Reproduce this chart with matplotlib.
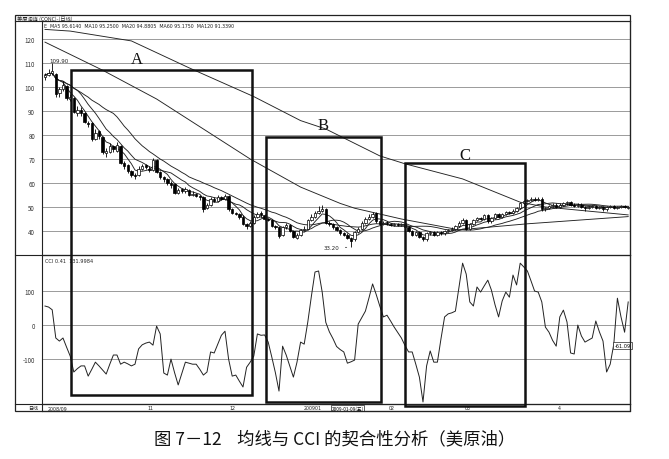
import matplotlib
matplotlib.use("Agg")
import matplotlib.pyplot as plt
from matplotlib.patches import Rectangle
from matplotlib.lines import Line2D
import numpy as np
import pandas as pd

plt.rcParams['font.family'] = ['Noto Sans CJK SC', 'DejaVu Sans']

# ---------------- data ----------------
opens = [104.0, 105.0, 106.0, 105.5, 97.5, 99.0, 100.5, 95.0, 95.5, 89.0,
         90.5, 89.0, 85.0, 85.0, 78.5, 81.5, 79.0, 72.5, 73.0, 75.5,
         73.5, 75.5, 68.5, 67.5, 65.0, 63.5, 63.5, 66.0, 67.5, 66.0,
         65.5, 69.5, 64.5, 62.5, 61.5, 60.0, 59.5, 56.0, 57.5, 56.5,
         57.0, 55.0, 55.5, 54.5, 54.0, 49.5, 51.0, 53.5, 52.5, 54.0,
         53.5, 54.5, 49.0, 47.5, 47.0, 46.0, 43.0, 42.0, 43.5, 46.0,
         47.5, 46.5, 45.0, 44.5, 42.0, 41.5, 38.5, 41.5, 42.5, 40.0,
         37.0, 38.5, 40.5, 41.0, 44.5, 46.0, 47.5, 48.5, 49.0, 43.5,
         43.0, 41.5, 40.5, 39.0, 38.5, 37.0, 36.5, 39.5, 41.0, 43.5,
         45.0, 46.0, 47.5, 44.0, 43.0, 43.5, 43.0, 42.5, 43.0, 42.5,
         43.0, 41.5, 40.0, 38.5, 39.5, 37.5, 36.5, 39.0, 39.5, 38.5,
         39.5, 39.0, 40.0, 40.5, 41.0, 42.0, 43.5, 44.5, 41.0, 43.0,
         44.5, 45.5, 45.0, 46.5, 44.0, 45.5, 47.0, 46.0, 47.0, 48.0,
         47.5, 48.5, 49.5, 51.5, 52.5, 53.0, 53.5, 53.0, 53.5, 49.0,
         49.5, 50.5, 51.0, 50.0, 51.0, 51.5, 52.0, 51.0, 50.5, 51.0,
         50.0, 49.5, 50.0, 50.5, 49.5, 50.0, 49.0, 50.0, 50.5, 49.5,
         50.0, 50.5, 49.5]
closes = [105.0, 106.0, 106.5, 97.0, 99.0, 101.0, 95.5, 96.0, 89.5, 90.5,
          89.0, 85.5, 84.5, 78.5, 81.0, 79.5, 73.0, 73.5, 75.5, 74.0,
          76.0, 68.5, 67.0, 65.0, 63.5, 63.0, 66.0, 67.0, 66.5, 65.5,
          69.5, 64.5, 62.5, 61.5, 60.0, 59.0, 56.0, 57.0, 56.5, 57.5,
          55.0, 55.5, 54.5, 54.0, 49.0, 51.0, 53.5, 52.5, 54.0, 53.5,
          54.5, 49.0, 47.5, 47.0, 46.0, 43.0, 42.0, 43.5, 46.0, 47.0,
          46.5, 45.0, 44.5, 42.0, 41.5, 38.0, 41.5, 42.5, 40.0, 37.5,
          38.5, 40.5, 41.0, 44.5, 46.0, 47.5, 48.5, 49.0, 43.5, 43.0,
          41.5, 40.5, 39.0, 38.5, 37.0, 36.0, 39.5, 41.0, 43.5, 45.0,
          46.0, 47.0, 44.0, 43.0, 43.5, 43.0, 42.5, 43.0, 42.5, 43.0,
          41.5, 40.0, 38.5, 39.5, 37.5, 36.5, 39.0, 39.5, 38.5, 39.5,
          39.0, 40.0, 40.5, 41.0, 42.0, 43.5, 44.5, 41.0, 43.0, 44.5,
          45.5, 45.0, 46.5, 44.0, 45.5, 47.0, 46.0, 47.0, 48.0, 47.5,
          48.5, 49.5, 51.5, 52.5, 53.0, 53.5, 53.0, 53.5, 49.0, 49.5,
          50.5, 51.0, 50.0, 51.0, 51.5, 52.0, 51.0, 50.5, 51.0, 50.0,
          49.5, 50.0, 50.5, 49.5, 50.0, 49.0, 50.0, 50.5, 49.5, 50.0,
          50.5, 50.0, 50.0]
highs = [106.0, 107.5, 109.9, 106.0, 100.0, 102.5, 101.0, 97.0, 96.0, 92.0,
         91.5, 89.5, 86.0, 85.5, 82.5, 82.0, 79.5, 74.5, 76.5, 76.0,
         77.0, 76.0, 69.0, 68.0, 65.5, 64.0, 67.0, 68.0, 68.0, 67.0,
         70.5, 70.0, 65.0, 63.0, 62.0, 61.0, 60.0, 58.0, 58.0, 58.5,
         57.5, 56.5, 56.0, 55.0, 54.5, 51.5, 54.0, 54.0, 55.0, 54.5,
         55.5, 55.0, 49.5, 48.0, 47.5, 46.5, 43.5, 44.0, 46.5, 48.0,
         48.5, 47.0, 45.5, 45.0, 42.5, 42.0, 42.0, 43.5, 43.0, 40.5,
         39.0, 41.0, 42.0, 45.0, 47.0, 48.5, 50.5, 51.0, 49.5, 44.0,
         43.5, 42.0, 41.0, 39.5, 39.0, 37.5, 40.0, 41.5, 44.0, 46.0,
         47.0, 48.0, 48.0, 44.5, 44.0, 44.0, 43.5, 43.5, 43.5, 43.5,
         43.5, 42.0, 40.5, 40.0, 40.0, 38.0, 39.5, 40.0, 40.0, 40.0,
         40.0, 40.5, 41.0, 41.5, 42.5, 44.0, 45.5, 45.0, 43.5, 45.0,
         46.0, 46.0, 47.0, 47.0, 46.0, 47.5, 47.5, 47.5, 48.5, 48.5,
         49.0, 50.0, 52.0, 53.0, 53.5, 54.0, 54.0, 54.0, 54.0, 50.0,
         51.0, 51.5, 51.5, 51.5, 52.0, 52.5, 52.5, 51.5, 51.5, 51.5,
         50.5, 50.5, 51.0, 51.0, 50.5, 50.5, 50.5, 51.0, 51.0, 50.5,
         51.0, 51.0, 50.5]
lows = [103.0, 104.5, 105.0, 96.0, 96.0, 98.5, 94.5, 94.0, 89.0, 88.0,
        88.0, 85.0, 83.5, 77.5, 78.0, 78.5, 72.0, 71.0, 72.5, 73.0,
        73.0, 68.0, 66.0, 64.0, 62.5, 61.5, 63.0, 65.5, 66.0, 64.5,
        65.0, 64.0, 61.5, 60.5, 59.0, 58.0, 55.5, 55.5, 56.0, 56.0,
        54.5, 54.5, 54.0, 53.0, 48.0, 49.0, 50.5, 52.0, 52.0, 53.0,
        53.0, 48.5, 47.0, 46.5, 45.0, 42.5, 41.0, 41.5, 43.0, 45.5,
        46.0, 44.5, 44.0, 41.5, 41.0, 37.0, 38.0, 41.0, 39.5, 37.0,
        36.5, 38.0, 40.0, 40.5, 44.0, 45.5, 47.0, 48.0, 43.0, 42.0,
        41.0, 40.0, 38.5, 38.0, 36.5, 33.2, 36.0, 39.0, 40.5, 43.0,
        44.5, 45.5, 43.5, 42.5, 42.5, 42.5, 42.0, 42.0, 42.0, 42.0,
        41.0, 39.5, 38.0, 38.0, 37.0, 36.0, 36.0, 38.5, 38.0, 38.0,
        38.5, 38.5, 39.5, 40.0, 40.5, 41.5, 43.0, 40.5, 40.5, 42.5,
        44.0, 44.5, 44.5, 43.5, 43.5, 45.0, 45.5, 45.5, 46.5, 47.0,
        47.0, 48.0, 49.0, 51.0, 52.0, 52.5, 52.5, 52.5, 48.5, 48.5,
        49.0, 50.0, 49.5, 49.5, 50.5, 51.0, 50.5, 50.0, 50.0, 49.5,
        48.5, 49.0, 49.5, 49.0, 49.0, 48.5, 48.5, 49.5, 49.0, 49.0,
        49.5, 49.5, 49.0]

# long moving averages (bar index, value)
ma60_idx = [0, 16, 31, 57, 71, 82, 86, 99, 115, 134, 162]
ma60_val = [118.7, 107.0, 95.0, 70.0, 58.3, 51.5, 49.5, 45.0, 40.5, 43.0, 46.0]
ma120_idx = [0, 7, 24, 40, 58, 71, 78, 93, 100, 116, 132, 139, 162]
ma120_val = [124.0, 123.3, 119.2, 108.0, 96.0, 86.0, 82.5, 71.3, 68.0, 61.7, 52.0, 50.0, 46.7]

cci = [56, 53, 45, -38, -47, -38, -65, -91, -138, -128,
       -120, -120, -150, -130, -109, -120, -132, -144, -115, -88,
       -88, -115, -109, -114, -120, -115, -70, -58, -53, -50,
       -59, -3, -26, -141, -147, -100, -140, -176, -142, -109,
       -112, -115, -115, -130, -147, -138, -79, -82, -56, -30,
       -18, -100, -150, -147, -165, -182, -124, -109, -91, -26,
       -30, -29, -50, -94, -140, -194, -62, -88, -120, -153,
       -109, -50, -56, 9, 85, 156, 159, 97, 8, -20,
       -40, -63, -72, -79, -112, -108, -103, 3, 22, 41,
       80, 121, 90, 56, 24, 29, 12, -6, -22, -38,
       -60, -79, -79, -115, -153, -226, -120, -76, -109, -109,
       -40, 24, 33, 36, 41, 112, 182, 150, 68, 56,
       112, 97, 115, 132, 103, 60, 24, 71, 97, 82,
       147, 118, 182, 171, 159, 130, 100, 97, 68, -6,
       -21, -45, -62, 24, 44, 9, -82, -85, 0, -32,
       -50, -44, -38, 12, -20, -47, -138, -115, -56, 79,
       24, -21, 68]

price_ticks = [40, 50, 60, 70, 80, 90, 100, 110, 120]
cci_ticks = [-100, 0, 100]
date_pos = [0, 29.2, 52, 71.8, 96.4, 117.5, 142.8]
date_labels = ["2008/09", "11", "12", "200901", "02", "03", "4"]

# ---------------- layout ----------------
W, H = 669, 460
fig = plt.figure(figsize=(W / 100, H / 100), dpi=100)
fig.patch.set_facecolor('white')

def rect(x0, y0, x1, y1):
    return [x0 / W, 1 - y1 / H, (x1 - x0) / W, (y1 - y0) / H]

def fx(x):
    return x / W

def fy(y):
    return 1 - y / H

ax_p = fig.add_axes(rect(42, 22, 630, 256))
ax_c = fig.add_axes(rect(42, 256, 630, 405))
ax_d = fig.add_axes(rect(42, 405, 630, 412))

N = len(closes)
x = np.arange(N)
xlim = (-0.83, 162.5)

for a in (ax_p, ax_c, ax_d):
    a.set_xlim(*xlim)
    a.set_facecolor('none')
    for s in a.spines.values():
        s.set_linewidth(0.8)
        s.set_color('#222222')
    a.tick_params(axis='x', bottom=False, labelbottom=False)

grid_col = '#9a9a9a'

# price panel
ax_p.set_ylim(30, 127.5)
for v in price_ticks:
    ax_p.axhline(v, color=grid_col, lw=0.7, zorder=0)
ax_p.set_yticks(price_ticks)
ax_p.set_yticklabels([str(v) for v in price_ticks], fontsize=4.5, color='#333333')
ax_p.tick_params(axis='y', length=0, pad=5)

o = np.array(opens); c = np.array(closes)
hi = np.array(highs); lo = np.array(lows)
ax_p.vlines(x, lo, hi, color='black', lw=0.6, zorder=3)
bottoms = np.minimum(o, c)
heights = np.maximum(np.abs(c - o), 0.25)
face = ['white' if cc > oo else 'black' for oo, cc in zip(o, c)]
ax_p.bar(x, heights, bottom=bottoms, width=0.7, color=face,
         edgecolor='black', linewidth=0.5, zorder=4)

s = pd.Series(closes)
for w in (5, 10, 20):
    ax_p.plot(x, s.rolling(w, min_periods=1).mean(), color='#222222', lw=0.65, zorder=2)
ax_p.plot(ma60_idx, ma60_val, color='#222222', lw=0.65, zorder=2)
ax_p.plot(ma120_idx, ma120_val, color='#222222', lw=0.65, zorder=2)

ax_p.text(1.2, 110.6, "109.90", fontsize=4, color='#222222', family='DejaVu Sans')
ax_p.annotate("33.20", xy=(84.6, 33.2), xytext=(77.5, 33.2), fontsize=4,
              va='center', color='#222222', family='DejaVu Sans',
              arrowprops=dict(arrowstyle='-', lw=0.5, color='#222222'))

# CCI panel
ax_c.set_ylim(-232, 206)
for v in cci_ticks:
    ax_c.axhline(v, color=grid_col, lw=0.7, zorder=0)
ax_c.set_yticks(cci_ticks)
ax_c.set_yticklabels([str(v) for v in cci_ticks], fontsize=4.5, color='#333333')
ax_c.tick_params(axis='y', length=0, pad=5)
ax_c.plot(x, cci, color='#222222', lw=0.7, zorder=3)
ax_c.text(0.0, 196, "CCI 0.41  131.9984", fontsize=3.6, va='top',
          color='#222222', family='DejaVu Sans')
ax_c.text(160.4, -61, "-61.09", fontsize=3.6, va='center', ha='center',
          family='DejaVu Sans',
          bbox=dict(boxstyle='square,pad=0.2', fc='white', ec='#222222', lw=0.5))

# date row
ax_d.set_ylim(0, 1)
ax_d.set_yticks([])
for p, lab in zip(date_pos, date_labels):
    ax_d.text(p + (0.8 if p == 0 else 0), 0.45, lab, fontsize=3.4, va='center',
              ha='left' if lab in ("2008/09", "200901") else 'center',
              family='DejaVu Sans', color='#222222')
ax_d.text(79.6, 0.45, "2009-01-09(五)", fontsize=3.4, va='center', ha='left',
          bbox=dict(boxstyle='square,pad=0.12', fc='white', ec='#222222', lw=0.5))

# outer frame and label column
fig.patches.append(Rectangle((fx(15), fy(412)), (630 - 15) / W, (412 - 16) / H,
                             transform=fig.transFigure, fill=False, ec='#222222', lw=0.9))
for (x0, y0, x1, y1) in [(15, 22, 630, 22), (15, 256, 630, 256), (15, 405, 630, 405)]:
    fig.lines.append(Line2D([fx(x0), fx(x1)], [fy(y0), fy(y1)],
                            transform=fig.transFigure, color='#222222', lw=0.8))
fig.text(fx(17), fy(19), "美原油连 (CONC)-(日线)", fontsize=3.8, va='center', color='#222222')
fig.text(fx(44), fy(26), "E  MA5 95.6140  MA10 95.2500  MA20 94.8805  MA60 95.1750  MA120 91.3390",
         fontsize=3.4, va='center', color='#222222', family='DejaVu Sans')
fig.text(fx(33), fy(408.5), "日线", fontsize=3.6, va='center', ha='center', color='#222222')

# highlight boxes A, B, C
boxes = [("A", 71, 71, 252, 396, 137, 60),
         ("B", 266, 138, 381, 403, 323, 126),
         ("C", 405, 164, 525, 407, 465, 156)]
for lab, x0, y0, x1, y1, tx, ty in boxes:
    fig.patches.append(Rectangle((fx(x0), fy(y1)), (x1 - x0) / W, (y1 - y0) / H,
                                 transform=fig.transFigure, fill=False,
                                 ec='#111111', lw=1.8, zorder=10))
    fig.text(fx(tx), fy(ty), lab, fontsize=12, ha='center', va='center',
             family='Liberation Serif', color='#111111')

# caption
fig.text(0.5, fy(439), "图 7－12    均线与 CCI 的契合性分析（美原油）",
         fontsize=12.5, ha='center', va='center', color='#111111')

fig.savefig("out.png", dpi=100, facecolor='white')
